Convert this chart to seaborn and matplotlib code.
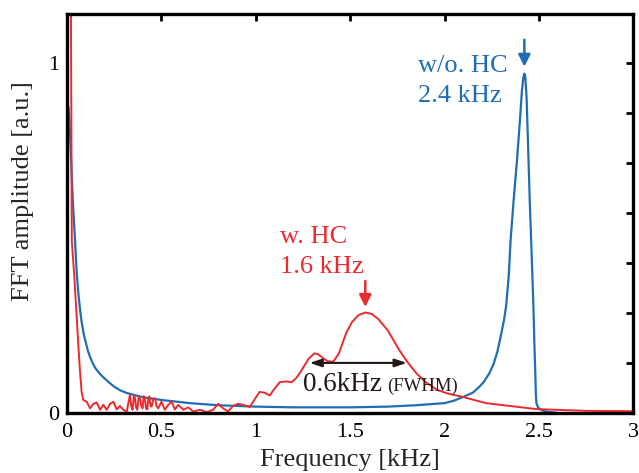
import matplotlib
matplotlib.use("Agg")
import matplotlib.pyplot as plt
import numpy as np
import pandas as pd
import seaborn as sns

# spectrum without HC (blue)
freq_wo = [0.0, 0.007, 0.012, 0.02, 0.03, 0.042, 0.051, 0.06, 0.07, 0.078, 0.09, 0.1,
           0.11, 0.122, 0.135, 0.15, 0.17, 0.19, 0.22, 0.25, 0.28, 0.316, 0.4, 0.5,
           0.65, 0.8, 1.0, 1.2, 1.5, 1.7, 1.85, 2.0, 2.05, 2.1, 2.15, 2.185, 2.21,
           2.238, 2.26, 2.28, 2.3, 2.315, 2.326, 2.34, 2.35, 2.365, 2.384, 2.4, 2.41,
           2.418, 2.423, 2.428, 2.435, 2.445, 2.452, 2.459, 2.465, 2.471, 2.476,
           2.481, 2.484, 2.487, 2.495, 2.511, 2.53, 2.55, 2.6]
amp_wo = [0.88, 0.875, 0.84, 0.74, 0.61, 0.494, 0.40, 0.34, 0.29, 0.257, 0.22, 0.2,
          0.178, 0.16, 0.143, 0.128, 0.114, 0.103, 0.088, 0.075, 0.065, 0.057, 0.045, 0.037,
          0.028, 0.022, 0.018, 0.016, 0.016, 0.018, 0.022, 0.028, 0.035, 0.046, 0.058, 0.075, 0.09,
          0.114, 0.14, 0.175, 0.225, 0.265, 0.304, 0.39, 0.494, 0.6, 0.723, 0.84, 0.92,
          0.96, 0.97, 0.96, 0.9, 0.723, 0.6, 0.494, 0.4, 0.304, 0.2,
          0.114, 0.05, 0.028, 0.016, 0.009, 0.005, 0.003, 0.0]

# spectrum with HC (red)
freq_w = [0.005, 0.02, 0.025, 0.037, 0.048, 0.06, 0.069, 0.077, 0.086, 0.104, 0.122,
          0.139, 0.157, 0.175, 0.192, 0.21, 0.228, 0.245, 0.263, 0.28, 0.298, 0.316,
          0.325, 0.333, 0.34, 0.347, 0.354, 0.36, 0.366, 0.372, 0.379, 0.386, 0.393,
          0.4, 0.406, 0.413, 0.419, 0.425, 0.43, 0.436, 0.442, 0.448, 0.457, 0.466,
          0.474, 0.483, 0.5, 0.518, 0.536, 0.554, 0.571, 0.589, 0.616, 0.642, 0.668, 0.704,
          0.74, 0.774, 0.8, 0.827, 0.853, 0.88, 0.906, 0.933, 0.968, 0.995, 1.02, 1.045,
          1.074, 1.1, 1.127, 1.16, 1.19, 1.215, 1.24, 1.28, 1.31, 1.33, 1.355, 1.38,
          1.41, 1.44, 1.48, 1.51, 1.545, 1.58, 1.615, 1.65, 1.7, 1.76, 1.8, 1.85, 1.9,
          1.96, 2.02, 2.095, 2.22, 2.485, 2.75, 3.0]
amp_w = [1.5, 1.2, 0.49, 0.40, 0.30, 0.19, 0.114, 0.06, 0.037, 0.032, 0.013,
         0.026, 0.03, 0.009, 0.023, 0.009, 0.026, 0.032, 0.01, 0.02, 0.009, 0.004,
         0.03, 0.051, 0.02, 0.009, 0.05, 0.042, 0.015, 0.009, 0.045, 0.042, 0.02,
         0.013, 0.048, 0.037, 0.012, 0.01, 0.04, 0.047, 0.02, 0.018, 0.04, 0.042,
         0.02, 0.013, 0.032, 0.009, 0.023, 0.032, 0.01, 0.023, 0.009, 0.016, 0.004, 0.009,
         0.002, 0.009, 0.026, 0.013, 0.004, 0.02, 0.026, 0.023, 0.017, 0.04, 0.06, 0.058,
         0.05, 0.07, 0.088, 0.09, 0.088, 0.1, 0.12, 0.155, 0.17, 0.168, 0.157, 0.148,
         0.146, 0.17, 0.23, 0.26, 0.28, 0.287, 0.283, 0.268, 0.235, 0.18, 0.148, 0.114, 0.088,
         0.066, 0.055, 0.046, 0.028, 0.011, 0.006, 0.005]

RED = "#ec2a2d"
BLUE = "#1f6db4"
INK = "#231815"

sns.set_theme(style="white")
plt.rcParams["font.family"] = ["Liberation Serif", "DejaVu Serif"]

fig = plt.figure(figsize=(6.39, 4.73), dpi=100)
ax = fig.add_axes([0.105, 0.127, 0.886, 0.843])

df_wo = pd.DataFrame({"f": freq_wo, "a": amp_wo})
df_w = pd.DataFrame({"f": freq_w, "a": amp_w})
sns.lineplot(data=df_wo, x="f", y="a", color=BLUE, lw=1.6, ax=ax, sort=False)
sns.lineplot(data=df_w, x="f", y="a", color=RED, lw=1.4, ax=ax, sort=False)

ax.set_xlim(0, 3)
ax.set_ylim(0, 1.14)
ax.set_xticks(np.arange(0, 3.01, 0.5))
ax.set_xticklabels(["0", "0.5", "1", "1.5", "2", "2.5", "3"])
ax.set_yticks([k / 7 for k in range(8)])
ax.set_yticklabels(["0", "", "", "", "", "", "", "1"])
ax.tick_params(direction="in", length=5, width=2, top=True, right=True,
               labelsize=16, colors="black", pad=6)
ax.tick_params(axis="x", pad=7)
for s in ax.spines.values():
    s.set_linewidth(2.4)
    s.set_color("black")

ax.set_xlabel("Frequency [kHz]", fontsize=19, labelpad=5)
ax.set_ylabel("FFT amplitude [a.u.]", fontsize=19)
ax.yaxis.set_label_coords(-0.058, 0.556)

# peak markers
ax.annotate("", xy=(1.58, 0.295), xytext=(1.58, 0.385),
            arrowprops=dict(arrowstyle="-|>,head_width=0.3,head_length=0.6", color=RED, lw=1.8))
ax.text(1.127, 0.503, "w. HC", color=RED, fontsize=19, ha="left", va="center")
ax.text(1.127, 0.417, "1.6 kHz", color=RED, fontsize=19, ha="left", va="center")
ax.annotate("", xy=(2.423, 0.982), xytext=(2.423, 1.075),
            arrowprops=dict(arrowstyle="-|>,head_width=0.3,head_length=0.6", color=BLUE, lw=1.8))
ax.text(1.857, 0.991, "w/o. HC", color=BLUE, fontsize=19, ha="left", va="center")
ax.text(1.857, 0.906, "2.4 kHz", color=BLUE, fontsize=19, ha="left", va="center")

# FWHM arrow
ax.annotate("", xy=(1.27, 0.143), xytext=(1.815, 0.143),
            arrowprops=dict(arrowstyle="<|-|>,head_width=0.2,head_length=0.6", color=INK, lw=1.5))
ax.text(1.25, 0.08, "0.6kHz", color=INK, fontsize=19.5, ha="left", va="center")
ax.text(1.697, 0.075, "(FWHM)", color=INK, fontsize=13.5, ha="left", va="center")

fig.savefig("out.png", dpi=100)
